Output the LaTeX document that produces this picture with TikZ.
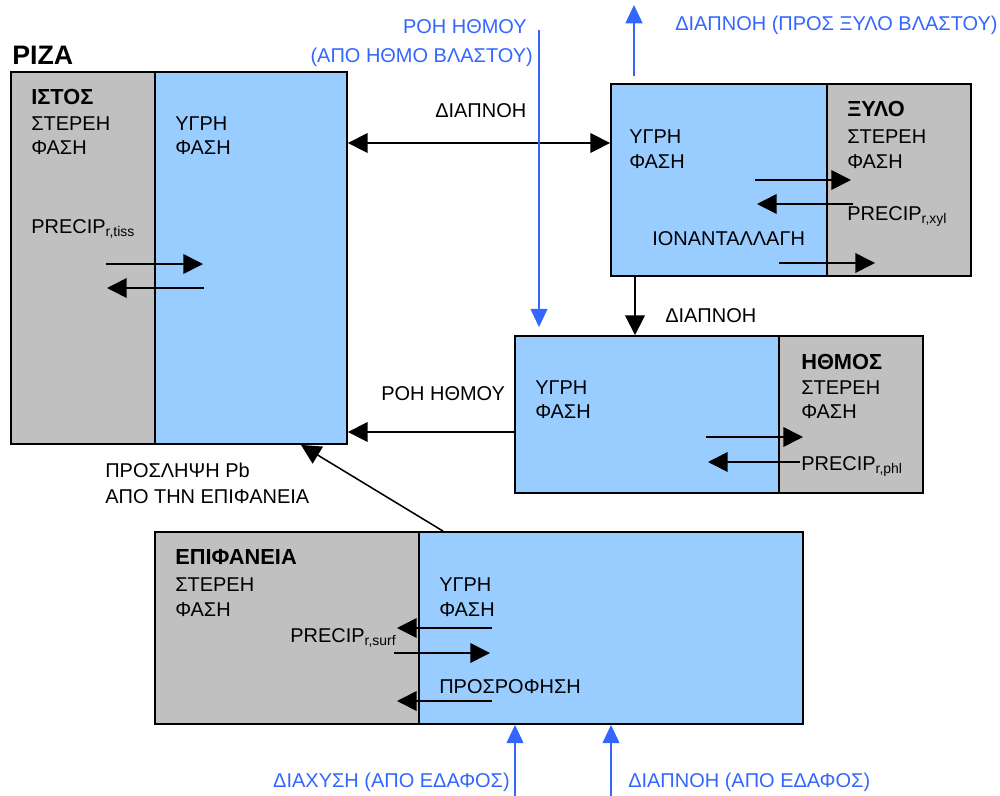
\documentclass[tikz,border=0pt]{standalone}
\usepackage{fontspec}
\setmainfont{Liberation Sans}
\usetikzlibrary{arrows.meta,fit}
\definecolor{liquid}{RGB}{153,204,255}
\definecolor{solidgray}{RGB}{192,192,192}
\definecolor{flowblue}{RGB}{51,102,255}
\tikzset{
	phase/.style={draw, line width=1.3pt, inner sep=0pt},
	liqph/.style={phase, fill=liquid},
	solph/.style={phase, fill=solidgray},
	lbl/.style={anchor=base west, inner sep=0pt, font=\fontsize{14.2}{17}\selectfont},
	head/.style={lbl, font=\fontsize{15.5}{17}\selectfont\bfseries},
	flow/.style={-{Triangle[length=14pt,width=14pt]}, line width=1.1pt},
	ext/.style={-{Triangle[length=13pt,width=12pt]}, line width=1.3pt, draw=flowblue, fill=flowblue},
	extlbl/.style={lbl, text=flowblue},
}

\begin{document}
\begin{tikzpicture}[x=0.025cm, y=-0.025cm]
	\useasboundingbox (0,0) rectangle (1000,796);
	% root (PIZA)
	\node[solph, fit={(11,72) (155,444)}] (rootS) {};
	\node[liqph, fit={(155,72) (347,444)}] (rootL) {};
	\node[head, font=\fontsize{19}{20}\selectfont\bfseries] (rootT) at (12,64) {ΡΙΖΑ};
	\node[head] (rootH) at (31,104) {ΙΣΤΟΣ};
	\node[lbl] (rootS1) at (31,130) {ΣΤΕΡΕΗ};
	\node[lbl] (rootS2) at (31,154) {ΦΑΣΗ};
	\node[lbl] (rootL1) at (175,130) {ΥΓΡΗ};
	\node[lbl] (rootL2) at (175,154) {ΦΑΣΗ};
	\node[lbl] (rootP) at (31,233) {PRECIP\textsubscript{r,tiss}};
	\draw[flow] (106,264) -- (203,264);
	\draw[flow] (204,288) -- (107,288);
	% xylem
	\node[liqph, fit={(611,84) (827,276)}] (xylL) {};
	\node[solph, fit={(827,84) (971,276)}] (xylS) {};
	\node[head] (xylH) at (847,116) {ΞΥΛΟ};
	\node[lbl] (xylS1) at (847,143) {ΣΤΕΡΕΗ};
	\node[lbl] (xylS2) at (847,168) {ΦΑΣΗ};
	\node[lbl] (xylL1) at (629,143) {ΥΓΡΗ};
	\node[lbl] (xylL2) at (629,168) {ΦΑΣΗ};
	\draw[flow] (755,180) -- (851,180);
	\draw[flow] (853,204) -- (757,204);
	\node[lbl] (xylP) at (847,220) {PRECIP\textsubscript{r,xyl}};
	\node[lbl] (xylI) at (652,245) {ΙΟΝΑΝΤΑΛΛΑΓΗ};
	\draw[flow] (779,263) -- (875,263);
	% phloem
	\node[liqph, fit={(515,336) (779,493)}] (phlL) {};
	\node[solph, fit={(779,336) (923,493)}] (phlS) {};
	\node[head] (phlH) at (801,369) {ΗΘΜΟΣ};
	\node[lbl] (phlS1) at (801,394) {ΣΤΕΡΕΗ};
	\node[lbl] (phlS2) at (801,418) {ΦΑΣΗ};
	\node[lbl] (phlL1) at (535,394) {ΥΓΡΗ};
	\node[lbl] (phlL2) at (535,418) {ΦΑΣΗ};
	\draw[flow] (706,437) -- (803,437);
	\draw[flow] (800,462) -- (708,462);
	\node[lbl] (phlP) at (801,470) {PRECIP\textsubscript{r,phl}};
	% surface
	\node[solph, fit={(155,532) (419,724)}] (surfS) {};
	\node[liqph, fit={(419,532) (803,724)}] (surfL) {};
	\node[head] (surfH) at (175,564) {ΕΠΙΦΑΝΕΙΑ};
	\node[lbl] (surfS1) at (175,591) {ΣΤΕΡΕΗ};
	\node[lbl] (surfS2) at (175,616) {ΦΑΣΗ};
	\node[lbl] (surfL1) at (439,591) {ΥΓΡΗ};
	\node[lbl] (surfL2) at (439,616) {ΦΑΣΗ};
	\node[lbl] (surfP) at (290,642) {PRECIP\textsubscript{r,surf}};
	\draw[flow] (492,628) -- (397,628);
	\draw[flow] (394,653) -- (490,653);
	\node[lbl] (surfA) at (439,693) {ΠΡΟΣΡΟΦΗΣΗ};
	\draw[flow] (492,701) -- (397,701);

	% transport between compartments
	\node[lbl] (trans1) at (435,117) {ΔΙΑΠΝΟΗ};
	\draw[flow, {Triangle[length=14pt,width=14pt]}-{Triangle[length=14pt,width=14pt]}] (rootL.east |- 0,143) -- (xylL.west |- 0,143);
	\node[lbl] (trans2) at (665,322) {ΔΙΑΠΝΟΗ};
	\draw[flow] (xylL.south -| 635,0) -- (phlL.north -| 635,0);
	\node[lbl] (phlflow) at (381,400) {ΡΟΗ ΗΘΜΟΥ};
	\draw[flow] (phlL.west |- 0,432) -- (rootL.east |- 0,432);
	\draw[flow] (surfL.north -| 443,0) -- (rootL.south -| 301,0);
	\node[lbl] (uptake1) at (105,477) {ΠΡΟΣΛΗΨΗ Pb};
	\node[lbl] (uptake2) at (105,503) {ΑΠΟ ΤΗΝ ΕΠΙΦΑΝΕΙΑ};

	% external fluxes
	\node[extlbl, anchor=base east] (shootP1) at (527,33) {ΡΟΗ ΗΘΜΟΥ};
	\node[extlbl, anchor=base east] (shootP2) at (533,62) {(ΑΠΟ ΗΘΜΟ ΒΛΑΣΤΟΥ)};
	\coordinate (shootPin) at (539,30);
	\draw[ext, shorten >=5.7pt] (shootPin) -- (shootPin |- phlL.north);
	\coordinate (shootXout) at (634,5);
	\draw[ext, shorten <=5pt] (xylL.north -| shootXout) -- (shootXout);
	\node[extlbl] (shootX) at (675,30) {ΔΙΑΠΝΟΗ (ΠΡΟΣ ΞΥΛΟ ΒΛΑΣΤΟΥ)};
	\coordinate (soilD) at (515,796);
	\coordinate (soilT) at (611,796);
	\draw[ext] (soilD) -- (soilD |- surfL.south);
	\draw[ext] (soilT) -- (soilT |- surfL.south);
	\node[extlbl, anchor=base east] (soilDl) at (510,787) {ΔΙΑΧΥΣΗ (ΑΠΟ ΕΔΑΦΟΣ)};
	\node[extlbl] (soilTl) at (628,787) {ΔΙΑΠΝΟΗ (ΑΠΟ ΕΔΑΦΟΣ)};
\end{tikzpicture}
\end{document}
